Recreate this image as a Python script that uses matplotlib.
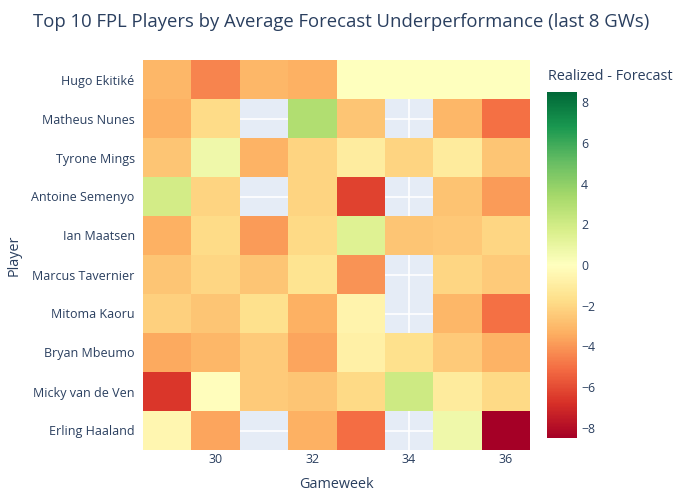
import numpy as np
import matplotlib
matplotlib.use("Agg")
import matplotlib.pyplot as plt

players = ["Hugo Ekitiké", "Matheus Nunes", "Tyrone Mings", "Antoine Semenyo", "Ian Maatsen",
           "Marcus Tavernier", "Mitoma Kaoru", "Bryan Mbeumo", "Micky van de Ven", "Erling Haaland"]
gameweeks = [29, 30, 31, 32, 33, 34, 35, 36]
nan = np.nan
values = [
    [-3.1, -4.5, -3.1, -3.3, 0.0, 0.0, 0.0, 0.0],
    [-3.3, -1.8, nan, 3.0, -2.6, nan, -3.1, -5.0],
    [-2.6, 0.7, -3.2, -2.1, -1.0, -2.1, -1.1, -2.6],
    [1.9, -2.1, nan, -2.1, -6.3, nan, -2.7, -3.9],
    [-3.3, -1.8, -3.9, -1.9, 1.4, -2.6, -2.5, -2.0],
    [-2.6, -2.0, -2.6, -1.5, -4.1, nan, -2.0, -2.4],
    [-2.2, -2.6, -1.6, -3.3, -0.6, nan, -3.1, -5.0],
    [-3.5, -3.1, -2.4, -3.6, -0.8, -1.6, -2.4, -3.2],
    [-6.6, -0.1, -2.4, -2.6, -1.9, 2.1, -1.1, -1.9],
    [-0.5, -3.6, nan, -3.3, -5.1, nan, 0.7, -8.5],
]
x_ticks = [30, 32, 34, 36]
cbar_ticks = [-8, -6, -4, -2, 0, 2, 4, 6, 8]
zmax = 8.5

plt.rcParams['font.family'] = ['Open Sans', 'DejaVu Sans']
txt = '#2a3f5f'

fig = plt.figure(figsize=(7, 5), dpi=100)
ax = fig.add_axes([143/700, 1-450/500, (530-143)/700, (450-60)/500])
ax.set_facecolor('#E5ECF6')

Z = np.ma.masked_invalid(np.array(values, dtype=float))
n = len(players)
xe = np.arange(gameweeks[0]-0.5, gameweeks[-1]+1.0, 1.0)
ye = np.arange(n+1) - 0.5
mesh = ax.pcolormesh(xe, ye, Z, cmap='RdYlGn', vmin=-zmax, vmax=zmax, zorder=1)
ax.set_xlim(xe[0], xe[-1])
ax.set_ylim(n-0.5, -0.5)
ax.set_yticks(range(n))
ax.set_yticklabels(players)
ax.set_xticks(x_ticks)
ax.set_axisbelow(True)
ax.grid(True, color='white', linewidth=1.2, zorder=0.5)
for s in ax.spines.values():
    s.set_visible(False)
ax.tick_params(length=0, labelsize=9.0, labelcolor=txt, pad=6)
ax.tick_params(axis='x', pad=2)
ax.set_xlabel('Gameweek', fontsize=10.4, color=txt, labelpad=8)
ax.set_ylabel('Player', fontsize=10.4, color=txt, labelpad=7)

cax = fig.add_axes([547/700, 1-438/500, 30/700, (438-92)/500])
cb = fig.colorbar(mesh, cax=cax, ticks=cbar_ticks)
cb.outline.set_visible(False)
cax.tick_params(length=0, labelsize=8.8, labelcolor=txt, pad=3)
fig.text(548/700, 1-77/500, 'Realized - Forecast', fontsize=10.4, color=txt, va='center', ha='left')

fig.text(33/700, 1-22/500, 'Top 10 FPL Players by Average Forecast Underperformance (last 8 GWs)',
         fontsize=13.3, color=txt, va='center', ha='left')

fig.savefig('out.png', dpi=100)
